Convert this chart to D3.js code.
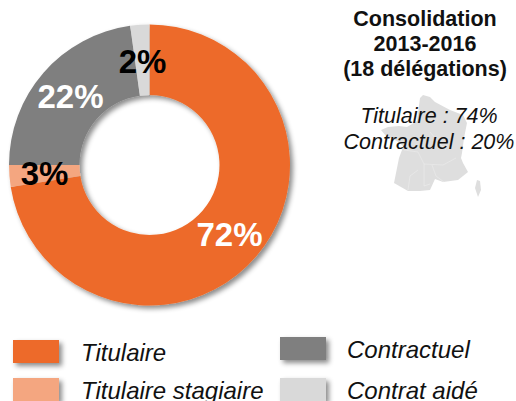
<!DOCTYPE html>
<html>
<head>
<meta charset="utf-8">
<script src="https://cdn.jsdelivr.net/npm/d3@7"></script>
<style>
  html, body { margin: 0; padding: 0; background: #fff; overflow: hidden; }
  text { font-family: "Liberation Sans", Arial, sans-serif; }
</style>
</head>
<body>
<div id="d3"></div>
<script>
var categories = ['Titulaire', 'Titulaire stagiaire', 'Contractuel', 'Contrat aidé'];
var sliceValues = [72.5, 2.5, 22.8, 2.2];
var sliceLabels = ['72%', '3%', '22%', '2%'];
var labelColors = ['#fff', '#000', '#fff', '#000'];
var colors = ['#ed6b29', '#f4a680', '#7f7f7f', '#d9d9d9'];
var titleLines = ['Consolidation', '2013-2016', '(18 délégations)'];
var noteLines = ['Titulaire : 74%', 'Contractuel : 20%'];

// rough outline of France (pixel positions inside the little map)
var franceX = [420, 423, 430, 435, 450, 463, 467, 464, 462, 461, 463, 468, 458, 443, 435, 430, 420, 408, 394, 396, 399, 402, 403, 397, 386, 381, 388, 399, 407, 417, 420];
var franceY = [98, 95, 97, 102, 110, 115, 123, 138, 153, 158, 163, 172, 180, 182, 179, 190, 191, 191, 183, 173, 158, 150, 146, 141, 136, 130, 127, 126, 127, 121, 98];
var corsicaX = [477, 480, 481, 478, 475];
var corsicaY = [180, 181, 190, 197, 188];
// faint region borders inside the map
var borderX = [[404, 418, 424, 424, 430], [424, 443, 456], [418, 410, 408], [432, 436, 444], [430, 440, 446]];
var borderY = [[150, 152, 164, 186, 184], [164, 165, 158], [170, 176, 190], [165, 176, 182], [132, 144, 150]];

var width = 516;
var height = 401;
var cx = 149.5, cy = 165;
var outer = 140.5, inner = 70;

var svg = d3.select('#d3').append('svg')
  .attr('width', width)
  .attr('height', height)
  .style('display', 'block');

var defs = svg.append('defs');
var shadow = defs.append('filter').attr('id', 'shadow')
  .attr('x', '-20%').attr('y', '-20%').attr('width', '150%').attr('height', '160%');
shadow.append('feDropShadow')
  .attr('dx', 3).attr('dy', 3).attr('stdDeviation', 2.5)
  .attr('flood-color', '#000').attr('flood-opacity', 0.45);

var pie = d3.pie().sort(null)(sliceValues);
var arc = d3.arc().innerRadius(inner).outerRadius(outer);

// map goes behind the text
var mapLine = d3.line().x(d => d[0]).y(d => d[1]);
var map = svg.append('g').attr('fill', '#dedede');
map.append('path').attr('d', mapLine(d3.zip(franceX, franceY)) + 'Z');
map.append('path').attr('d', mapLine(d3.zip(corsicaX, corsicaY)) + 'Z');
map.append('g').attr('fill', 'none').attr('stroke', '#ececec').attr('stroke-width', 0.6)
  .selectAll('path')
  .data(borderX)
  .join('path')
  .attr('d', (d, i) => mapLine(d3.zip(d, borderY[i])));

var donut = svg.append('g').attr('transform', `translate(${cx},${cy})`);
donut.append('g')
  .attr('filter', 'url(#shadow)')
  .selectAll('path')
  .data(pie)
  .join('path')
  .attr('fill', (d, i) => colors[i])
  .attr('d', arc);

var labelPos = [[80, 69], [-105, 8], [-79, -69], [-7, -104]];
donut.selectAll('text')
  .data(pie)
  .join('text')
  .attr('x', (d, i) => labelPos[i][0])
  .attr('y', (d, i) => labelPos[i][1])
  .attr('dy', '0.35em')
  .attr('text-anchor', 'middle')
  .attr('font-weight', 'bold')
  .attr('font-size', 33)
  .attr('fill', (d, i) => labelColors[i])
  .text((d, i) => sliceLabels[i]);

svg.append('g').selectAll('text')
  .data(titleLines)
  .join('text')
  .attr('x', 425)
  .attr('y', (d, i) => 25.5 + i * 25)
  .attr('text-anchor', 'middle')
  .attr('font-weight', 'bold')
  .attr('font-size', 21.5)
  .attr('fill', '#111')
  .text(d => d);

svg.append('g').selectAll('text')
  .data(noteLines)
  .join('text')
  .attr('x', 429)
  .attr('y', (d, i) => 123 + i * 26)
  .attr('text-anchor', 'middle')
  .attr('font-style', 'italic')
  .attr('font-size', 21.5)
  .attr('fill', '#111')
  .text(d => d);

// legend
var legendX = [13, 13, 280, 280];
var legendY = [340, 378, 337, 378];
var legend = svg.append('g');
legend.selectAll('rect')
  .data(categories)
  .join('rect')
  .attr('x', (d, i) => legendX[i])
  .attr('y', (d, i) => legendY[i])
  .attr('width', 46)
  .attr('height', 23)
  .attr('fill', (d, i) => colors[i])
  .attr('filter', 'url(#shadow)');
legend.selectAll('text')
  .data(categories)
  .join('text')
  .attr('x', (d, i) => legendX[i] + (i < 2 ? 68 : 67))
  .attr('y', (d, i) => [361, 399, 358, 399][i])
  .attr('font-style', 'italic')
  .attr('font-size', 24)
  .attr('fill', '#111')
  .text(d => d);
</script>
</body>
</html>
